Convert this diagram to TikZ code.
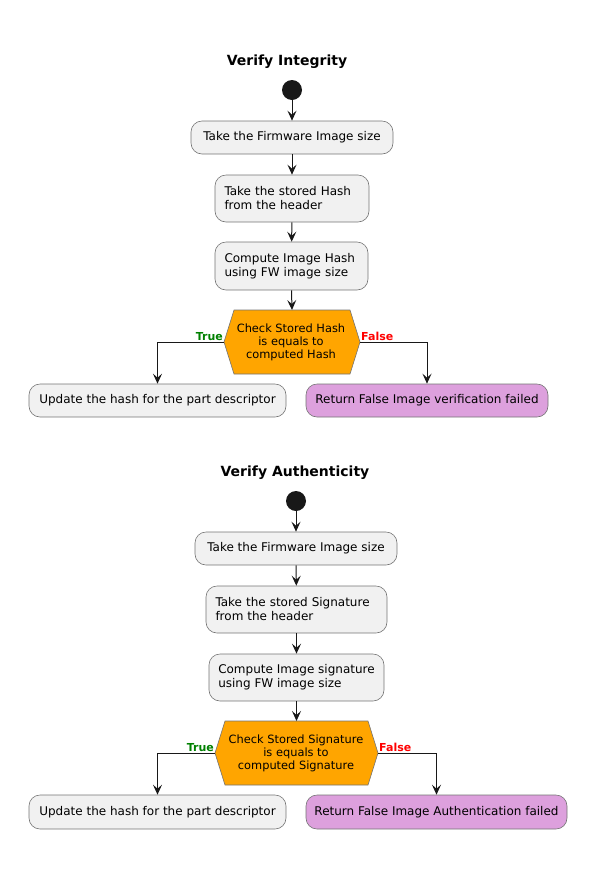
\documentclass[tikz,border=0pt]{standalone}
\usepackage{fontspec}
\setmainfont{DejaVu Sans}
\usetikzlibrary{arrows.meta,positioning}
\definecolor{boxfill}{HTML}{F1F1F1}
\definecolor{linec}{HTML}{181818}
\definecolor{plumc}{HTML}{DDA0DD}
\definecolor{hexc}{HTML}{FFA500}
\definecolor{truec}{HTML}{008000}
\definecolor{falsec}{HTML}{FF0000}
\newcommand\mynohyph{\hyphenpenalty10000\relax\exhyphenpenalty10000\relax}
\tikzset{
  act/.style={draw=linec!60, line width=0.6pt, fill=boxfill, rounded corners=11pt, inner sep=0pt, font={\fontsize{12}{14}\selectfont\mynohyph}, align=left},
  startdot/.style={circle, fill=linec, minimum size=20pt, inner sep=0pt},
  title/.style={font=\fontsize{14}{16}\selectfont\bfseries},
  hexshape/.style={draw=linec!60, line width=0.6pt, fill=hexc},
  hextext/.style={font=\fontsize{11.4}{13}\selectfont, align=center, inner sep=0pt},
  flow/.style={draw=linec, line width=1pt, -{Stealth[length=10pt,width=9pt,inset=4pt]}},
  tlabel/.style={font=\fontsize{11}{13}\selectfont\bfseries, text=truec, inner sep=1pt},
  flabel/.style={font=\fontsize{11}{13}\selectfont\bfseries, text=falsec, inner sep=1pt},
}
\begin{document}
\begin{tikzpicture}[x=1pt,y=-1pt]
\useasboundingbox (0,0) rectangle (599,895);
% ---------- Verify Integrity ----------
\node[title] (t1) at (287,62) {Verify Integrity};
\node[startdot] (s1) at (292,90) {};
\node[act, minimum width=202pt, minimum height=33pt, align=center] (a1) at (292,137.5) {Take the Firmware Image size};
\node[act, minimum width=154pt, minimum height=47pt, text width=135pt] (a2) at (292,198.5) {Take the stored Hash\\from the header};
\node[act, minimum width=153pt, minimum height=48pt, text width=134pt] (a3) at (291.5,266) {Compute Image Hash\\using FW image size};
\draw[hexshape] (224,342) -- (234,310) -- (350,310) -- (360,342) -- (350,374) -- (234,374) -- cycle;
\coordinate (h1T) at (292,310);
\coordinate (h1L) at (224,342);
\coordinate (h1R) at (360,342);
\node[hextext] (h1) at (291,342) {Check Stored Hash\\ is equals to\\computed Hash };
\node[act, minimum width=257pt, minimum height=33pt, align=center] (l1) at (157.5,400.5) {Update the hash for the part descriptor};
\node[act, fill=plumc, minimum width=242pt, minimum height=33pt, align=center] (r1) at (427,400.5) {Return False Image verification failed};
\draw[flow] (s1) -- (a1);
\draw[flow] (a1) -- (a2);
\draw[flow] (a2) -- (a3);
\draw[flow] (a3.south) -- (h1T);
\draw[flow] (h1L) -| (l1.north);
\draw[flow] (h1R) -| (r1.north);
\node[tlabel, anchor=south east] (tt1) at (224,342) {True};
\node[flabel, anchor=south west] (ff1) at (360,342) {False};
% ---------- Verify Authenticity ----------
\node[title] (t2) at (295,473) {Verify Authenticity};
\node[startdot] (s2) at (296,501) {};
\node[act, minimum width=202pt, minimum height=33pt, align=center] (b1) at (296,548.5) {Take the Firmware Image size};
\node[act, minimum width=181pt, minimum height=47pt, text width=162pt] (b2) at (296.5,609.5) {Take the stored Signature\\from the header};
\node[act, minimum width=175pt, minimum height=47pt] (b3) at (296.5,677.5) {Compute Image signature\\using FW image size};
\draw[hexshape] (215,753) -- (225,721) -- (368,721) -- (378,753) -- (368,785) -- (225,785) -- cycle;
\coordinate (h2T) at (296.5,721);
\coordinate (h2L) at (215,753);
\coordinate (h2R) at (378,753);
\node[hextext] (h2) at (296,753) {Check Stored Signature\\is equals to\\computed Signature };
\node[act, minimum width=257pt, minimum height=34pt, align=center] (l2) at (157.5,812) {Update the hash for the part descriptor};
\node[act, fill=plumc, minimum width=261pt, minimum height=34pt, align=center] (r2) at (436.5,812) {Return False Image Authentication failed};
\draw[flow] (s2) -- (b1);
\draw[flow] (b1) -- (b2);
\draw[flow] (b2) -- (b3);
\draw[flow] (b3.south) -- (h2T);
\draw[flow] (h2L) -| (l2.north);
\draw[flow] (h2R) -| (r2.north);
\node[tlabel, anchor=south east] (tt2) at (215,753) {True};
\node[flabel, anchor=south west] (ff2) at (378,753) {False};
\end{tikzpicture}
\end{document}
